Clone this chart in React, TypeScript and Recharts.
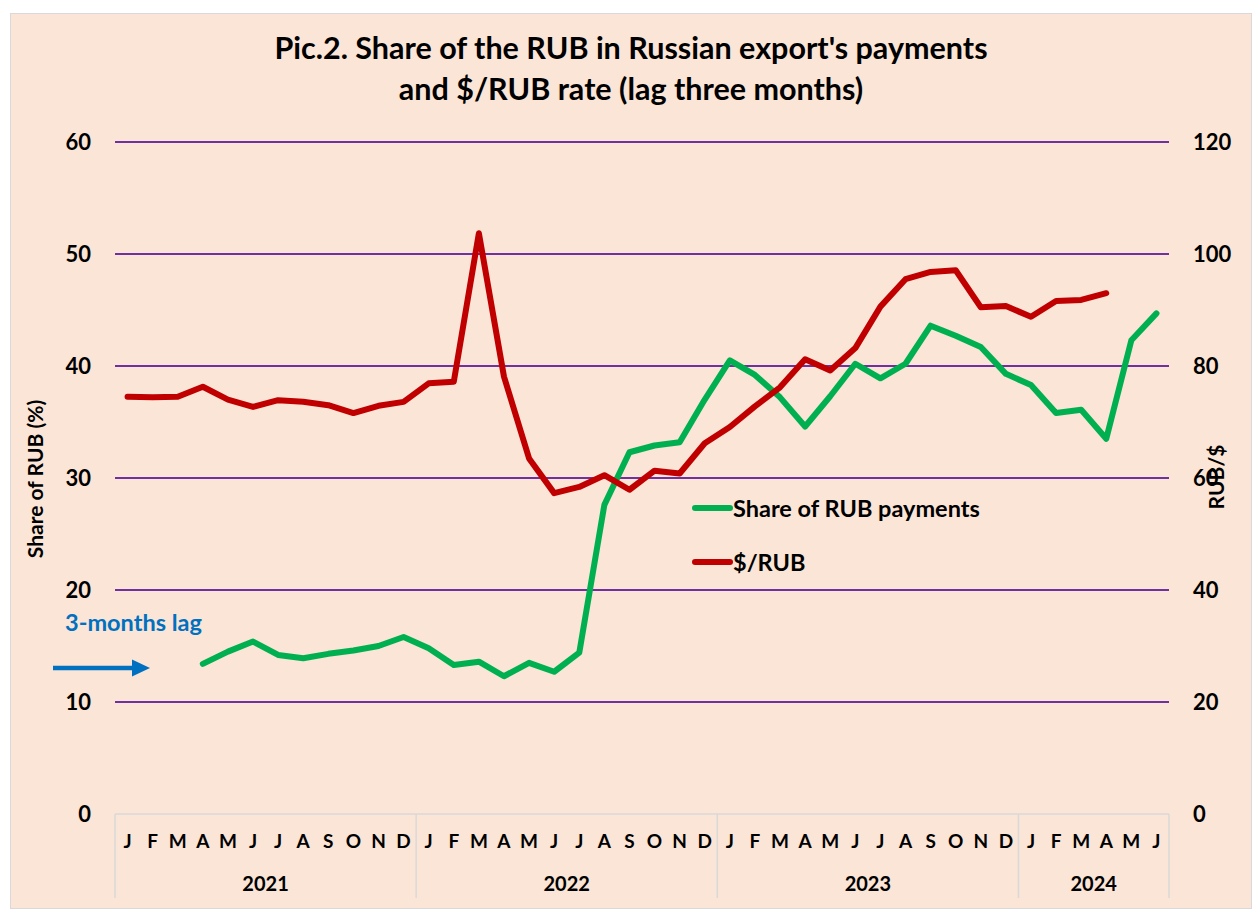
import React from "react";
import { CartesianGrid, Line, LineChart, XAxis, YAxis } from "recharts";

const MONTHS = [
  "J", "F", "M", "A", "M", "J", "J", "A", "S", "O", "N", "D",
  "J", "F", "M", "A", "M", "J", "J", "A", "S", "O", "N", "D",
  "J", "F", "M", "A", "M", "J", "J", "A", "S", "O", "N", "D",
  "J", "F", "M", "A", "M", "J",
];
const YEARS = ["2021", "2022", "2023", "2024"];
const YEAR_START = [0, 12, 24, 36];
const YEAR_LEN = [12, 12, 12, 6];

// share of RUB in export payments, % (left axis), shown with a 3-month lag
const RUB_SHARE = [
  null, null, null, 13.4, 14.5, 15.4, 14.2, 13.9, 14.3, 14.6, 15.0, 15.8,
  14.8, 13.3, 13.6, 12.3, 13.5, 12.7, 14.4, 27.6, 32.3, 32.9, 33.2, 37.0,
  40.5, 39.2, 37.2, 34.6, 37.3, 40.2, 38.9, 40.2, 43.6, 42.7, 41.7, 39.3,
  38.3, 35.8, 36.1, 33.5, 42.3, 44.7,
];
// $/RUB rate (right axis)
const USD_RUB = [
  74.5, 74.4, 74.5, 76.3, 74.0, 72.7, 73.9, 73.6, 73.0, 71.6, 72.9, 73.6,
  76.9, 77.2, 103.7, 78.1, 63.5, 57.3, 58.4, 60.5, 57.9, 61.3, 60.8, 66.2,
  69.1, 72.8, 76.2, 81.2, 79.2, 83.2, 90.6, 95.5, 96.8, 97.1, 90.5, 90.7,
  88.8, 91.6, 91.8, 93.0, null, null,
];

const LEFT_TICKS = [0, 10, 20, 30, 40, 50, 60];
const RIGHT_TICKS = [0, 20, 40, 60, 80, 100, 120];
const GRID_VALUES = [10, 20, 30, 40, 50, 60];

const LEGEND_NAMES = ["Share of RUB payments", "$/RUB"];
const LEGEND_COLORS = ["#00B050", "#C00000"];

const FONT = "Lato, 'Open Sans', sans-serif";
const W = 1240;
const H = 894;
const PLOT_LEFT = 104;
const PLOT_RIGHT = 1158;
const BAND = (PLOT_RIGHT - PLOT_LEFT) / MONTHS.length;

const data = MONTHS.map((m, i) => ({
  key: `m${i}`,
  month: m,
  share: RUB_SHARE[i],
  rate: USD_RUB[i],
}));

function MonthTick({ x, y, payload }: any) {
  return (
    <text x={x} y={y + 34} textAnchor="middle" fontFamily={FONT} fontWeight={700} fontSize={19} fill="#000">
      {payload.value}
    </text>
  );
}

function YearTick({ x, y, payload }: any) {
  const i = payload.index;
  const g = YEAR_START.findIndex((s, k) => i === s + YEAR_LEN[k] / 2 - 1);
  return (
    <g>
      {YEAR_START.includes(i) && (
        <line x1={x - BAND / 2} x2={x - BAND / 2} y1={y - 46} y2={y + 38} stroke="#D9D9D9" strokeWidth={1.5} />
      )}
      {i === MONTHS.length - 1 && (
        <line x1={x + BAND / 2} x2={x + BAND / 2} y1={y - 46} y2={y + 38} stroke="#D9D9D9" strokeWidth={1.5} />
      )}
      {g >= 0 && (
        <text x={x + BAND / 2} y={y + 31} textAnchor="middle" fontFamily={FONT} fontWeight={700} fontSize={20} fill="#000">
          {YEARS[g]}
        </text>
      )}
    </g>
  );
}

const tickStyle = { fontFamily: FONT, fontWeight: 700, fontSize: 22, fill: "#000" };
const pad = { left: BAND / 2, right: BAND / 2 };

export default function App() {
  return (
    <div style={{ position: "relative", width: 1256, height: 909, background: "#fff", overflow: "hidden" }}>
      <style>{`body{margin:0}`}</style>
      <div
        style={{
          position: "absolute",
          left: 10,
          top: 13,
          width: W,
          height: H,
          border: "1px solid #D9D9D9",
          background: "#FBE5D6",
        }}
      >
        <div
          style={{
            position: "absolute",
            left: 0,
            top: 13,
            width: W,
            textAlign: "center",
            fontFamily: FONT,
            fontWeight: 700,
            fontSize: 30.5,
            lineHeight: "41px",
            color: "#000",
          }}
        >
          Pic.2. Share of the RUB in Russian export's payments
          <br />
          and $/RUB rate (lag three months)
        </div>

        <LineChart width={W} height={H} data={data} margin={{ top: 128, right: 0, bottom: 0, left: 0 }}>
          <CartesianGrid vertical={false} horizontalValues={GRID_VALUES} stroke="#7030A0" strokeWidth={2} />
          <XAxis
            dataKey="month"
            interval={0}
            height={46}
            padding={pad}
            tickSize={0}
            tickMargin={0}
            axisLine={{ stroke: "#D9D9D9", strokeWidth: 1.5 }}
            tickLine={false}
            tick={<MonthTick />}
          />
          <XAxis
            xAxisId="year"
            dataKey="key"
            interval={0}
            height={48}
            padding={pad}
            tickSize={0}
            tickMargin={0}
            axisLine={false}
            tickLine={false}
            tick={<YearTick />}
          />
          <YAxis
            width={PLOT_LEFT}
            domain={[0, 60]}
            ticks={LEFT_TICKS}
            axisLine={false}
            tickLine={false}
            tickSize={0}
            tickMargin={24}
            tick={tickStyle}
          />
          <YAxis
            yAxisId="right"
            orientation="right"
            width={W - PLOT_RIGHT}
            domain={[0, 120]}
            ticks={RIGHT_TICKS}
            axisLine={false}
            tickLine={false}
            tickSize={0}
            tickMargin={24}
            tick={tickStyle}
          />
          <Line
            dataKey="share"
            name={LEGEND_NAMES[0]}
            stroke={LEGEND_COLORS[0]}
            strokeWidth={6}
            strokeLinejoin="round"
            strokeLinecap="round"
            dot={false}
            activeDot={false}
            isAnimationActive={false}
          />
          <Line
            yAxisId="right"
            dataKey="rate"
            name={LEGEND_NAMES[1]}
            stroke={LEGEND_COLORS[1]}
            strokeWidth={6}
            strokeLinejoin="round"
            strokeLinecap="round"
            dot={false}
            activeDot={false}
            isAnimationActive={false}
          />
        </LineChart>

        <svg
          width={W}
          height={H}
          style={{ position: "absolute", left: 0, top: 0, pointerEvents: "none" }}
        >
          <text
            transform="translate(23,465) rotate(-90)"
            textAnchor="middle"
            dominantBaseline="central"
            fontFamily={FONT}
            fontWeight={700}
            fontSize={21}
            fill="#000"
          >
            Share of RUB (%)
          </text>
          <text
            transform="translate(1204,463) rotate(-90)"
            textAnchor="middle"
            dominantBaseline="central"
            fontFamily={FONT}
            fontWeight={700}
            fontSize={21}
            fill="#000"
          >
            RUB/$
          </text>
          <text x={54} y={617} fontFamily={FONT} fontWeight={700} fontSize={23.5} fill="#0070C0">
            3-months lag
          </text>
          <line x1={42} x2={124} y1={654} y2={654} stroke="#0070C0" strokeWidth={4.5} />
          <polygon points="121,645.5 139,654 121,662.5" fill="#0070C0" />
        </svg>

        <div style={{ position: "absolute", left: 681, top: 467, fontFamily: FONT, pointerEvents: "none" }}>
          {LEGEND_NAMES.map((name, k) => (
            <div key={name} style={{ display: "flex", alignItems: "center", height: 54 }}>
              <div style={{ width: 41, height: 6, borderRadius: 3, background: LEGEND_COLORS[k] }} />
              <span style={{ fontWeight: 700, fontSize: 23.5, color: "#000", whiteSpace: "nowrap" }}>{name}</span>
            </div>
          ))}
        </div>
      </div>
    </div>
  );
}
